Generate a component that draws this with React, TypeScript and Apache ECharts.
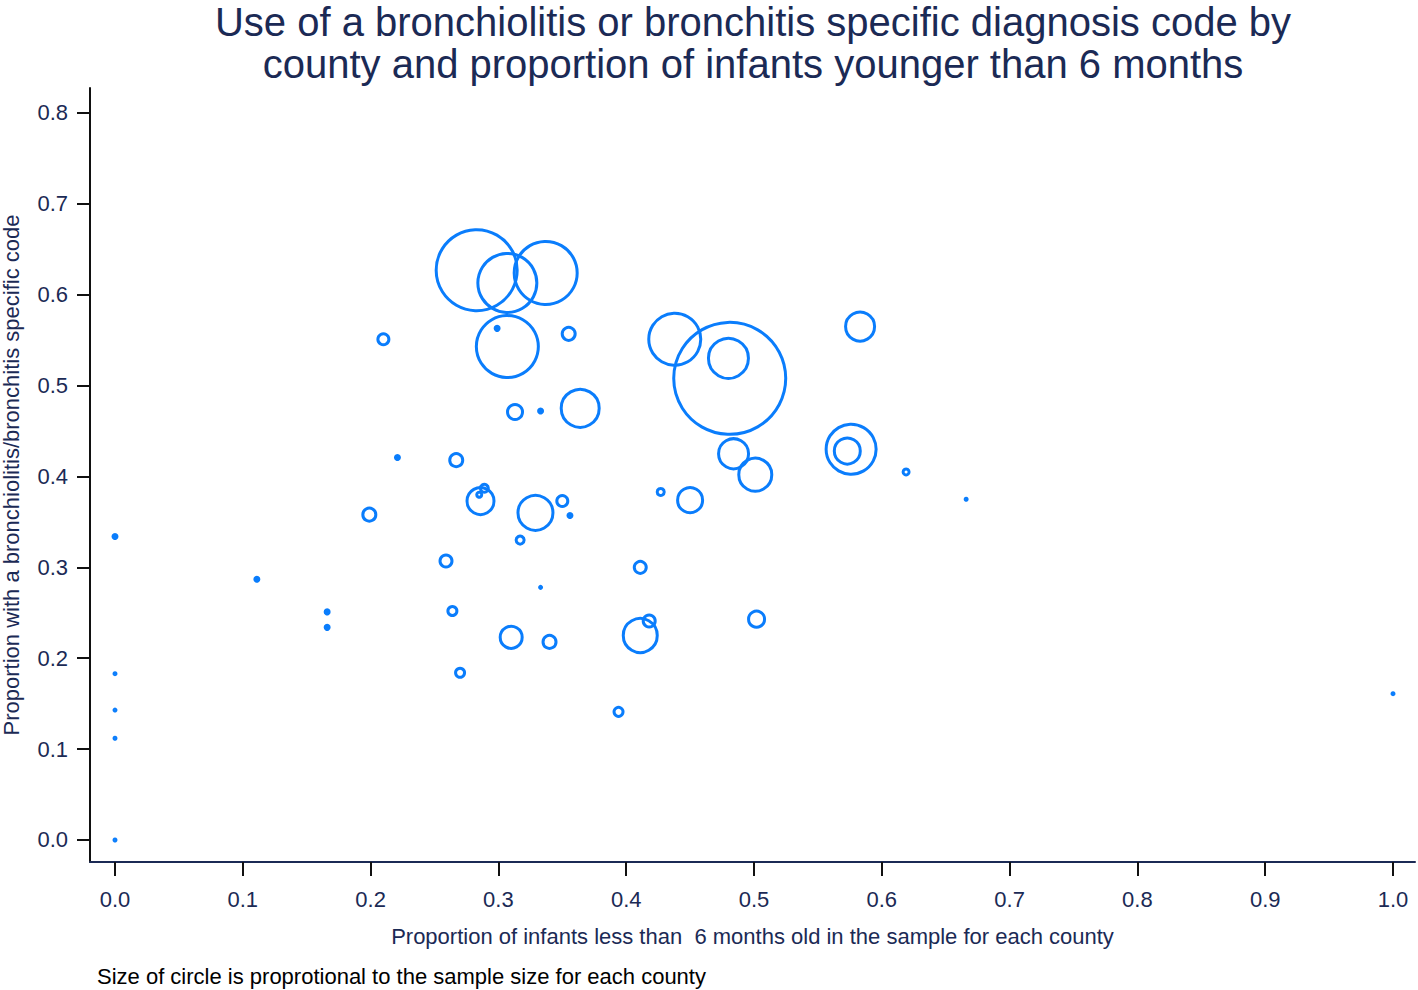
import React, { useEffect, useRef } from "react";
import * as echarts from "echarts";

// Proportion of infants < 6 months (x), proportion with specific code (y), relative circle size (sample size)
const propInfants = [
  0.0, 0.0, 0.0, 0.0, 0.0, 0.111, 0.166, 0.166, 0.199, 0.21,
  0.221, 0.259, 0.264, 0.267, 0.27, 0.283, 0.286, 0.289, 0.285, 0.299,
  0.307, 0.307, 0.31, 0.313, 0.317, 0.329, 0.333, 0.333, 0.337, 0.34,
  0.35, 0.355, 0.356, 0.364, 0.394, 0.411, 0.411, 0.418, 0.427, 0.438,
  0.45, 0.48, 0.481, 0.484, 0.501, 0.502, 0.573, 0.576, 0.583, 0.619,
  0.666, 1.0,
];
const propSpecific = [
  0.334, 0.183, 0.143, 0.112, 0.0, 0.287, 0.251, 0.234, 0.358, 0.551,
  0.421, 0.307, 0.252, 0.418, 0.184, 0.627, 0.373, 0.387, 0.38, 0.563,
  0.613, 0.543, 0.223, 0.471, 0.33, 0.36, 0.472, 0.278, 0.624, 0.218,
  0.373, 0.557, 0.357, 0.475, 0.141, 0.3, 0.225, 0.241, 0.383, 0.551,
  0.374, 0.53, 0.508, 0.425, 0.402, 0.243, 0.428, 0.43, 0.565, 0.405,
  0.375, 0.161,
];
const sampleSize = [
  7, 5, 5, 5, 5, 7, 7, 7, 16, 14,
  7, 15, 12, 16, 12, 84, 30, 11, 8, 7,
  62, 65, 25, 18, 11, 38, 7, 5, 66, 16,
  14, 16, 7, 41, 12, 15, 37, 15, 10, 55,
  28, 43, 115, 33, 36, 19, 29, 53, 32, 9,
  5, 5,
];
const tickValues = [0, 0.1, 0.2, 0.3, 0.4, 0.5, 0.6, 0.7, 0.8, 0.9, 1.0];
const yTickValues = [0, 0.1, 0.2, 0.3, 0.4, 0.5, 0.6, 0.7, 0.8];

const titleLines = [
  "Use of a bronchiolitis or bronchitis specific diagnosis code by",
  "county and proportion of infants younger than 6 months",
];
const xName = "Proportion of infants less than  6 months old in the sample for each county";
const yName = "Proportion with a bronchiolitis/bronchitis specific code";
const caption = "Size of circle is proprotional to the sample size for each county";

const NAVY = "#1b2a55";
const BLUE = "#0a7dfc";
const FONT = "Liberation Sans, Arial, sans-serif";

export default function App() {
  const ref = useRef<HTMLDivElement>(null);
  useEffect(() => {
    if (!ref.current) return;
    const chart = echarts.init(ref.current, undefined, { renderer: "svg" });
    const data = propInfants.map((x, i) => [x, propSpecific[i], sampleSize[i]]);
    chart.setOption({
      animation: false,
      backgroundColor: "#ffffff",
      textStyle: { fontFamily: FONT },
      grid: { left: 90, right: 3, top: 88, bottom: 128, containLabel: false, outerBoundsMode: "none" },
      xAxis: {
        type: "value",
        min: -0.01956,
        max: 1.01721,
        splitLine: { show: false },
        axisLine: { show: true, onZero: false, lineStyle: { color: NAVY, width: 2 } },
        axisTick: { show: true, length: 14, customValues: tickValues, lineStyle: { color: "#111", width: 2 } },
        axisLabel: {
          customValues: tickValues,
          formatter: (v: number) => v.toFixed(1),
          color: NAVY,
          fontSize: 22,
          margin: 26,
          fontFamily: FONT,
        },
        name: xName,
        nameLocation: "middle",
        nameGap: 63,
        nameTextStyle: { color: NAVY, fontSize: 22, fontFamily: FONT },
      },
      yAxis: {
        type: "value",
        min: -0.02421,
        max: 0.82751,
        splitLine: { show: false },
        axisLine: { show: true, onZero: false, lineStyle: { color: "#111", width: 2 } },
        axisTick: { show: true, length: 13, customValues: yTickValues, lineStyle: { color: "#111", width: 2 } },
        axisLabel: {
          customValues: yTickValues,
          formatter: (v: number) => v.toFixed(1),
          color: NAVY,
          fontSize: 22,
          margin: 22,
          fontFamily: FONT,
        },
        name: yName,
        nameLocation: "middle",
        nameGap: 68,
        nameTextStyle: { color: NAVY, fontSize: 22, fontFamily: FONT },
      },
      series: [
        {
          type: "scatter",
          data,
          symbol: "circle",
          symbolSize: (d: number[]) => Math.max(d[2] - 3, 2),
          itemStyle: {
            color: (p: any) => (p.data[2] <= 7 ? BLUE : "rgba(0,0,0,0)"),
            borderColor: BLUE,
            borderWidth: 3,
            opacity: 1,
          },
          emphasis: { disabled: true },
        },
      ],
      graphic: [
        {
          type: "text",
          x: 753,
          y: 22,
          style: { text: titleLines[0], fontSize: 40, fill: NAVY, align: "center", verticalAlign: "middle", fontFamily: FONT },
        },
        {
          type: "text",
          x: 753,
          y: 64,
          style: { text: titleLines[1], fontSize: 40, fill: NAVY, align: "center", verticalAlign: "middle", fontFamily: FONT },
        },
        {
          type: "text",
          x: 97,
          y: 976,
          style: { text: caption, fontSize: 22, fill: "#000", align: "left", verticalAlign: "middle", fontFamily: FONT },
        },
      ],
    });
    return () => chart.dispose();
  }, []);
  return (
    <div
      ref={ref}
      style={{ position: "fixed", left: 0, top: 0, width: 1418, height: 990, background: "#fff" }}
    />
  );
}
